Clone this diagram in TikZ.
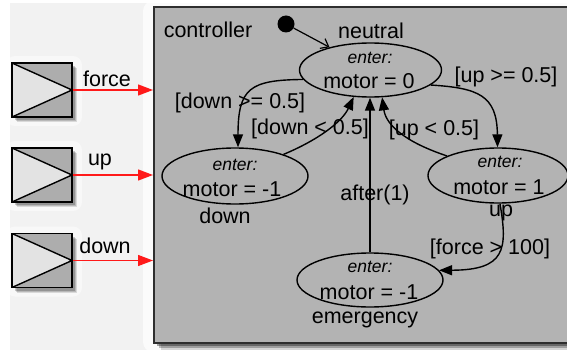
\documentclass[tikz,border=0pt]{standalone}
\usepackage{fontspec}
\setmainfont{Liberation Sans}
\usetikzlibrary{shapes.geometric,arrows.meta}
\definecolor{bgc}{HTML}{F2F2F2}
\definecolor{boxfill}{HTML}{B3B3B3}
\definecolor{boxline}{HTML}{2E2E2E}
\definecolor{lightfill}{HTML}{E3E3E3}
\definecolor{darkfill}{HTML}{ADADAD}
\definecolor{sigred}{HTML}{FF1A1A}
\begin{document}
\begin{tikzpicture}[x=1pt,y=-1pt,
  txt/.style={inner sep=0pt, font=\fontsize{21.5}{24}\selectfont},
  ent/.style={inner sep=0pt, font=\fontsize{17.5}{20}\selectfont\itshape},
  state/.style={draw, line width=1.4pt, ellipse, inner sep=0pt},
  blockbox/.style={draw, line width=1.4pt, fill=darkfill, minimum width=60pt, minimum height=54pt, inner sep=0pt,
    path picture={\fill[lightfill] (path picture bounding box.north west) -- (path picture bounding box.east) -- (path picture bounding box.south west) -- cycle;
      \draw[line width=1.4pt] (path picture bounding box.north west) -- (path picture bounding box.east) -- (path picture bounding box.south west);}},
  trans/.style={line width=1.4pt, -{Triangle[length=13pt,width=10pt]}},
  sig/.style={sigred, line width=1.3pt, -{Triangle[length=15pt,width=11pt]}}
]
\useasboundingbox (0,0) rectangle (567,350);
\fill[white] (0,0) rectangle (567,350);
\fill[bgc] (10,3) rectangle (567,350);
% glows
\fill[white, opacity=0.7, rounded corners=10pt] (143,1) rectangle (575,352);
\foreach \yy in {90,175,260.5}{
  \fill[white, opacity=0.5, rounded corners=9pt] (6,\yy-34) rectangle (82,\yy+36);
  \foreach \o/\op in {5/0.12,4/0.15,3/0.2}{
    \fill[black, opacity=\op] (12+\o,\yy-27+\o) rectangle (72+\o,\yy+27+\o);}
}
% controller shadow
\foreach \o/\op in {7/0.15,5/0.25,3/0.35}{
  \fill[black, opacity=\op] (154+\o,7+\o) rectangle (590,343+\o);}
% controller box
\node[draw=boxline, fill=boxfill, line width=2pt, minimum width=436pt, minimum height=336pt, inner sep=0pt] (ctrl) at (372,175) {};
\node[txt] (ctrlname) at (208,29.5) {controller};

% input blocks
\node[blockbox] (fblk) at (42,90) {};
\node[blockbox] (ublk) at (42,175) {};
\node[blockbox] (dblk) at (42,260.5) {};
\draw[sig] (fblk.east) -- (fblk.east -| ctrl.west);
\draw[sig] (ublk.east) -- (ublk.east -| ctrl.west);
\draw[sig] (dblk.east) -- (dblk.east -| ctrl.west);
\node[txt] (flab) at (107,79) {force};
\node[txt] (ulab) at (100,162) {up};
\node[txt] (dlab) at (105,246) {down};

% states
\node[state, minimum width=142pt, minimum height=54pt] (neutral) at (370.5,70) {};
\node[state, minimum width=146pt, minimum height=56pt] (down) at (235,176) {};
\node[state, minimum width=140pt, minimum height=55pt] (up) at (498,175.5) {};
\node[state, minimum width=146pt, minimum height=54pt] (emerg) at (370,280) {};

\node[ent] (ne) at (370,58) {enter:};
\node[txt] (nm) at (369,81.5) {motor = 0};
\node[txt] (nn) at (371,30.5) {neutral};

\node[ent] (de) at (235,165) {enter:};
\node[txt] (dm) at (232,189) {motor = -1};
\node[txt] (dn) at (225,216) {down};

\node[ent] (ue) at (500,161.5) {enter:};
\node[txt] (um) at (499,187) {motor = 1};
\node[txt] (un) at (501,213) {up};

\node[ent] (ee) at (370,267) {enter:};
\node[txt] (em) at (369,292) {motor = -1};
\node[txt] (en) at (365,320) {emergency};

% initial
\node[circle, fill=black, minimum size=17pt, inner sep=0pt] (init) at (286,24) {};
\draw[line width=1.2pt, -{Straight Barb[length=7pt,width=11pt]}] (init) -- (neutral.151);

% transitions
\draw[trans] (neutral.188) .. controls (250,80) and (238,88) .. (down.84);
\draw[trans] (down.24) .. controls (318,140) and (342,122) .. (neutral.238);
\draw[trans] (emerg.north) -- (emerg.north |- neutral.south);
\draw[trans] (up.159) .. controls (405,142) and (386,125) .. (neutral.293);
\draw[trans] (neutral.346) .. controls (478,88) and (497,95) .. (up.91);
\draw[trans] (up.274) .. controls (508,250) and (505,270) .. (emerg.8);

% labels
\node[txt] (l1) at (240,103) {[down >= 0.5]};
\node[txt] (l2) at (310,129) {[down < 0.5]};
\node[txt] (l3) at (434,130) {[up < 0.5]};
\node[txt] (l4) at (506,77) {[up >= 0.5]};
\node[txt] (l5) at (375,195) {after(1)};
\node[txt] (l6) at (490,249) {[force > 100]};
\end{tikzpicture}
\end{document}
